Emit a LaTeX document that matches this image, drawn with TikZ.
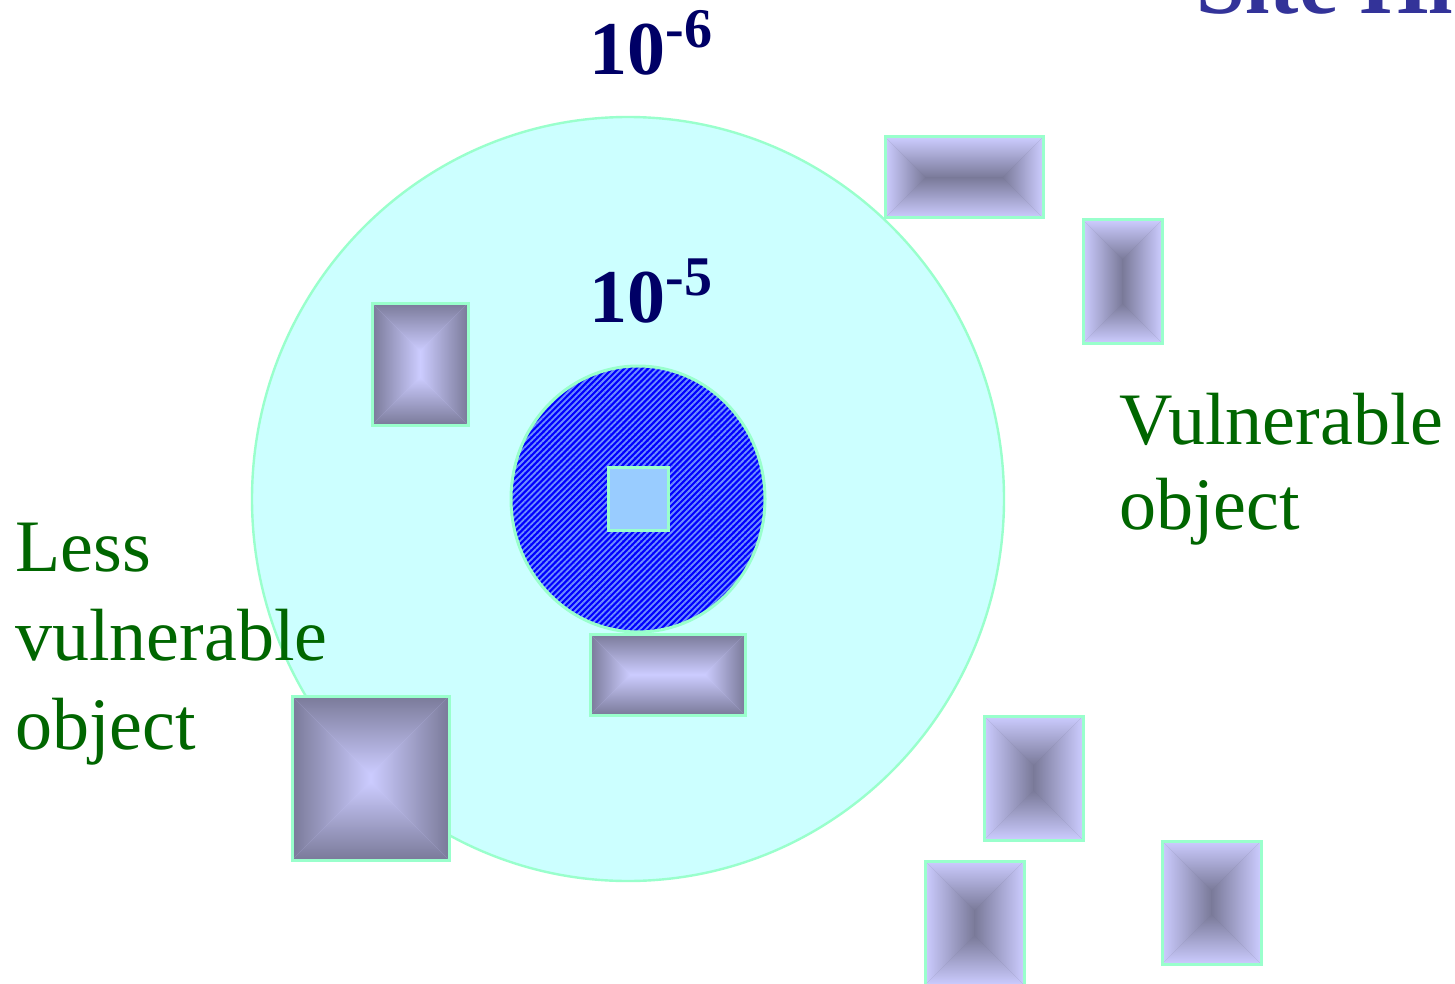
\documentclass[tikz,border=0pt]{standalone}
\usepackage{fontspec}
\setmainfont{Liberation Serif}
\usetikzlibrary{patterns.meta}
\definecolor{ringfill}{RGB}{204,255,255}
\definecolor{ringline}{RGB}{153,255,204}
\definecolor{coreblue}{RGB}{0,0,255}
\definecolor{corestripe}{RGB}{110,140,255}
\definecolor{sqfill}{RGB}{153,204,255}
\definecolor{boxdark}{RGB}{122,122,153}
\definecolor{boxlight}{RGB}{204,204,255}
\definecolor{navy}{RGB}{0,0,102}
\definecolor{txtgreen}{RGB}{0,102,0}
\definecolor{titleblue}{RGB}{51,51,153}
\tikzset{
  boxline/.style={draw=ringline,line width=1.5pt},
  powlabel/.style={inner sep=0pt,anchor=base west,text=navy,font=\fontsize{38}{38}\selectfont\bfseries},
  greenlabel/.style={inner sep=0pt,anchor=base west,text=txtgreen,align=left},
}
\newcommand\pyrbox[7]{%
 \fill[#7] (#1,#2) rectangle (#3,#4);
 \shade[top color=#6,bottom color=#7] (#1,#2) -- (#3,#2) -- ({#3-#5},{#2+#5}) -- ({#1+#5},{#2+#5}) -- cycle;
 \shade[top color=#7,bottom color=#6] (#1,#4) -- (#3,#4) -- ({#3-#5},{#4-#5}) -- ({#1+#5},{#4-#5}) -- cycle;
 \shade[left color=#6,right color=#7] (#1,#2) -- ({#1+#5},{#2+#5}) -- ({#1+#5},{#4-#5}) -- (#1,#4) -- cycle;
 \shade[left color=#7,right color=#6] (#3,#2) -- ({#3-#5},{#2+#5}) -- ({#3-#5},{#4-#5}) -- (#3,#4) -- cycle;
 \draw[boxline] (#1,#2) rectangle (#3,#4);
}
\begin{document}
\begin{tikzpicture}[x=0.5pt,y=-0.5pt]
\useasboundingbox (0,0) rectangle (1455,984);
\clip (0,0) rectangle (1455,984);
\fill[white] (0,0) rectangle (1455,984);
% outer zone
\draw[fill=ringfill,draw=ringline,line width=1.2pt] (628,499) ellipse [x radius=188pt,y radius=191pt];
% inner zone
\fill[coreblue] (638,499) ellipse [x radius=63.5pt,y radius=66.5pt];
\fill[pattern={Lines[angle=45,distance=2.1pt,line width=0.9pt]},pattern color=corestripe] (638,499) ellipse [x radius=63.5pt,y radius=66.5pt];
\draw[draw=ringline,line width=1.5pt] (638,499) ellipse [x radius=63.5pt,y radius=66.5pt];
% source
\draw[fill=sqfill,boxline] (608,467) rectangle (668,530);
% less vulnerable objects (dark edges, light centre)
\pyrbox{372}{303}{468}{425}{48}{boxdark}{boxlight}
\pyrbox{590}{634}{745}{715}{40.5}{boxdark}{boxlight}
\pyrbox{292}{696}{449}{860}{78.5}{boxdark}{boxlight}
% vulnerable objects (light edges, dark centre)
\pyrbox{885}{137}{1043}{218}{40.5}{boxlight}{boxdark}
\pyrbox{1083}{220}{1162}{343}{39.5}{boxlight}{boxdark}
\pyrbox{984}{716}{1083}{840}{49.5}{boxlight}{boxdark}
\pyrbox{925}{861}{1024}{985}{49.5}{boxlight}{boxdark}
\pyrbox{1162}{841}{1261}{964}{49.5}{boxlight}{boxdark}
% labels
\node[powlabel] (t6) at (589,75) {10\fontsize{28}{28}\selectfont\raisebox{13.5pt}{-6}};
\node[powlabel] (t5) at (589,322) {10\fontsize{28}{28}\selectfont\raisebox{13.5pt}{-5}};
\node[greenlabel,font=\fontsize{37}{42.5}\selectfont] (vuln) at (1119,529) {Vulnerable\\object};
\node[greenlabel,font=\fontsize{37}{44.5}\selectfont] (less) at (15,749) {Less\\vulnerable\\object};
\node[inner sep=0pt,anchor=base west,text=titleblue,font=\fontsize{44}{44}\selectfont\bfseries] (title) at (1196,14) {Site Hi};
\end{tikzpicture}
\end{document}
